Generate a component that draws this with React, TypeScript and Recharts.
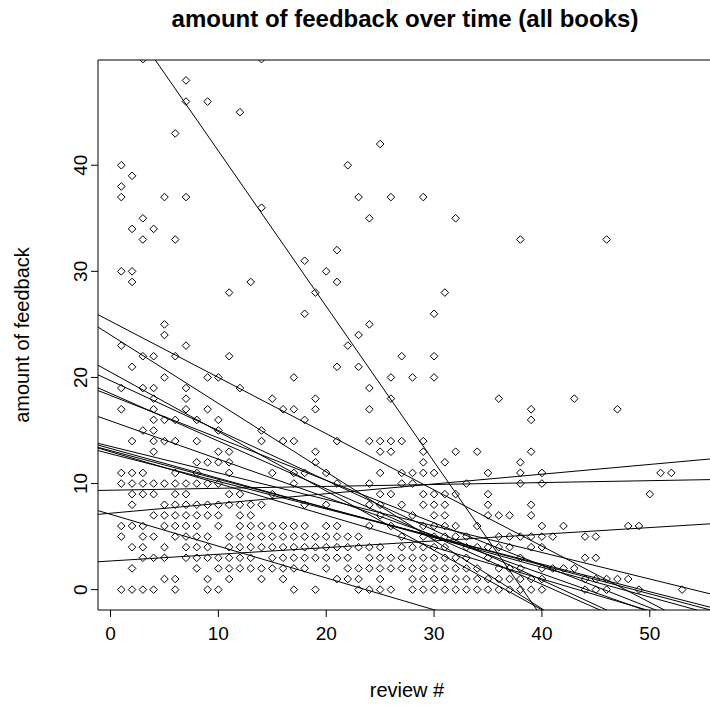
import React from 'react';
import { ComposedChart, Scatter, XAxis, YAxis, ReferenceLine, ReferenceArea } from 'recharts';

// ---- axis ranges & ticks ----
const X_MIN = -1.16;
const X_MAX = 57.16;
const Y_MIN = -1.92;
const Y_MAX = 49.92;
const xTicks = [0, 10, 20, 30, 40, 50];
const yTicks = [0, 10, 20, 30, 40];

// ---- dense part of the scatter: review numbers observed at each feedback level ----
const feedbackLevels = [0, 1, 2, 3, 4, 5, 6, 7, 8, 9, 10, 11, 12, 13, 14];
const reviewsAtLevel: number[][] = [
  [1, 2, 3, 4, 6, 9, 10, 17, 19, 23, 24, 25, 26, 28, 29, 30, 31, 32, 33, 34, 35, 36, 37, 38, 39, 40, 44, 45, 46, 49, 53],
  [5, 6, 9, 11, 14, 16, 21, 22, 23, 25, 28, 29, 30, 31, 32, 33, 34, 35, 36, 37, 38, 39, 40, 44, 45, 46, 47, 48],
  [2, 8, 10, 11, 12, 13, 14, 15, 16, 17, 18, 20, 22, 23, 24, 25, 26, 27, 28, 29, 30, 31, 32, 33, 34, 36, 37, 38, 40, 41, 42, 43],
  [3, 4, 5, 7, 8, 9, 10, 11, 12, 13, 15, 16, 17, 18, 19, 20, 21, 22, 24, 25, 26, 27, 28, 29, 30, 31, 32, 33, 35, 38, 44, 45],
  [2, 3, 5, 7, 8, 9, 11, 12, 13, 14, 15, 16, 17, 18, 19, 20, 21, 22, 23, 24, 25, 27, 28, 29, 30, 31, 33, 34, 35, 36, 37, 39, 40],
  [1, 3, 4, 6, 7, 8, 9, 11, 12, 13, 14, 15, 16, 17, 18, 19, 20, 21, 22, 23, 27, 29, 30, 31, 32, 33, 36, 37, 38, 39, 40, 41, 44, 45],
  [1, 2, 3, 5, 6, 7, 8, 10, 12, 13, 14, 15, 16, 17, 18, 20, 21, 24, 26, 29, 30, 31, 32, 34, 40, 42, 48, 49],
  [4, 5, 6, 7, 8, 9, 10, 12, 13, 25, 28, 30, 31, 35, 36, 37, 39],
  [2, 5, 6, 7, 8, 9, 10, 11, 12, 13, 14, 18, 20, 24, 25, 27, 29, 30, 31, 35, 39],
  [2, 3, 4, 6, 7, 11, 12, 15, 25, 26, 29, 30, 31, 32, 35, 50],
  [1, 2, 3, 4, 5, 6, 7, 8, 9, 10, 17, 21, 24, 27, 28, 33, 38, 40],
  [1, 2, 3, 6, 8, 11, 15, 17, 18, 20, 25, 27, 28, 29, 30, 35, 38, 40, 51, 52],
  [8, 9, 10, 11, 19, 29, 31, 38],
  [4, 10, 11, 19, 25, 26, 29, 32, 34, 39],
  [2, 4, 5, 6, 8, 14, 16, 17, 21, 24, 25, 26, 27, 29],
];

// ---- sparse part of the scatter: [review #, feedback] ----
const sparsePoints: [number, number][] = [
  [3, 50], [14, 50], [7, 48], [7, 46], [9, 46], [12, 45], [6, 43], [1, 40], [2, 39], [1, 38],
  [1, 37], [5, 37], [7, 37], [14, 36], [3, 35], [2, 34], [4, 34], [3, 33], [6, 33],
  [25, 42], [22, 40], [23, 37], [26, 37], [29, 37], [24, 35], [32, 35], [21, 32], [38, 33], [46, 33],
  [1, 30], [2, 30], [2, 29], [13, 29], [11, 28], [18, 31], [18, 26], [5, 25], [5, 24], [1, 23],
  [7, 23], [3, 22], [4, 22], [6, 22], [11, 22], [2, 21], [5, 20], [9, 20], [10, 20], [17, 20],
  [1, 19], [3, 19], [4, 19], [7, 19], [12, 19], [4, 18], [7, 18], [15, 18], [1, 17], [4, 17],
  [7, 17], [9, 17], [16, 17], [17, 17], [4, 16], [5, 16], [6, 16], [8, 16], [10, 16], [18, 16],
  [3, 15], [4, 15], [10, 15], [14, 15],
  [20, 30], [21, 29], [19, 28], [31, 28], [30, 26], [24, 25], [23, 24], [22, 23], [27, 22], [30, 22],
  [21, 21], [23, 21], [26, 20], [28, 20], [30, 20], [24, 19], [19, 18], [26, 18], [36, 18], [19, 17],
  [24, 17], [43, 18], [39, 17], [47, 17], [39, 16],
];

// ---- fitted lines per book (abline): intercept and slope ----
const lineIntercepts = [56.0, 25.3, 24.0, 20.5, 19.7, 18.5, 18.3, 15.9, 13.5, 13.3, 13.1, 13.0, 12.8, 7.1, 7.2, 9.37, 2.7];
const lineSlopes = [-1.465, -0.53, -0.645, -0.56, -0.47, -0.45, -0.40, -0.36, -0.25, -0.28, -0.27, -0.30, -0.26, -0.30, 0.092, 0.018, 0.063];

const points: { x: number; y: number }[] = [];
feedbackLevels.forEach((lvl, i) => reviewsAtLevel[i].forEach((r) => points.push({ x: r, y: lvl })));
sparsePoints.forEach(([r, f]) => points.push({ x: r, y: f }));

const FONT = '"Liberation Sans", Arial, sans-serif';

const Diamond = (props: any) => {
  const { cx, cy } = props;
  if (cx == null || cy == null) return null;
  const r = 3.8;
  return (
    <path
      d={`M${cx},${cy - r}L${cx + r},${cy}L${cx},${cy + r}L${cx - r},${cy}Z`}
      fill="none"
      stroke="#000"
      strokeWidth={1}
    />
  );
};

const XTick = (props: any) => {
  const { x, payload } = props;
  return (
    <text x={x} y={640} textAnchor="middle" fontFamily={FONT} fontSize={19} fill="#000">
      {payload.value}
    </text>
  );
};

const YTick = (props: any) => {
  const { y, payload } = props;
  const bx = 87;
  return (
    <text
      x={bx}
      y={y}
      textAnchor="middle"
      fontFamily={FONT}
      fontSize={19}
      fill="#000"
      transform={`rotate(-90, ${bx}, ${y})`}
    >
      {payload.value}
    </text>
  );
};

export default function App() {
  return (
    <div style={{ position: 'absolute', left: 0, top: 0, width: 710, height: 706, overflow: 'hidden', background: '#fff' }}>
      <div style={{ position: 'absolute', left: 0, top: 0, width: 740, height: 706 }}>
        <ComposedChart width={740} height={706} data={points} margin={{ top: 60, right: 13, bottom: 0, left: 0 }}>
          <XAxis
            type="number"
            dataKey="x"
            domain={[X_MIN, X_MAX]}
            ticks={xTicks}
            allowDataOverflow
            axisLine={false}
            tickLine={{ stroke: '#000' }}
            tickSize={7}
            height={96}
            tick={<XTick />}
            interval={0}
          />
          <YAxis
            type="number"
            dataKey="y"
            domain={[Y_MIN, Y_MAX]}
            ticks={yTicks}
            allowDataOverflow
            axisLine={false}
            tickLine={{ stroke: '#000' }}
            tickSize={7}
            width={98}
            tick={<YTick />}
            interval={0}
          />
          <ReferenceArea
            x1={X_MIN}
            x2={X_MAX}
            y1={Y_MIN}
            y2={Y_MAX}
            fill="none"
            stroke="#000"
            strokeWidth={1}
            fillOpacity={0}
            ifOverflow="visible"
          />
          <Scatter data={points} dataKey="y" shape={<Diamond />} isAnimationActive={false} />
          {lineIntercepts.map((a, i) => (
            <ReferenceLine
              key={i}
              segment={[
                { x: X_MIN, y: a + lineSlopes[i] * X_MIN },
                { x: X_MAX, y: a + lineSlopes[i] * X_MAX },
              ]}
              stroke="#000"
              strokeWidth={1}
              ifOverflow="hidden"
            />
          ))}
        </ComposedChart>
      </div>
      <div
        style={{
          position: 'absolute', left: 0, top: 7, width: 810, textAlign: 'center',
          fontFamily: FONT, fontWeight: 'bold', fontSize: 24, lineHeight: '24px', color: '#000',
        }}
      >
        amount of feedback over time (all books)
      </div>
      <div
        style={{
          position: 'absolute', left: 0, top: 680, width: 814, textAlign: 'center',
          fontFamily: FONT, fontSize: 20, lineHeight: '20px', color: '#000',
        }}
      >
        review #
      </div>
      <div
        style={{
          position: 'absolute', left: 22 - 150, top: 335 - 10, width: 300, textAlign: 'center',
          fontFamily: FONT, fontSize: 20, lineHeight: '20px', color: '#000',
          transform: 'rotate(-90deg)', transformOrigin: '150px 10px',
        }}
      >
        amount of feedback
      </div>
    </div>
  );
}
